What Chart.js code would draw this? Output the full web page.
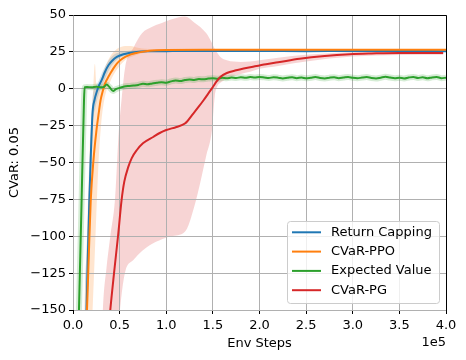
<!DOCTYPE html>
<html><head><meta charset="utf-8">
<script src="https://cdn.jsdelivr.net/npm/chart.js@4/dist/chart.umd.min.js"></script>
<style>html,body{margin:0;padding:0;background:#fff}#wrap{width:466px;height:360px}</style>
</head><body><div id="wrap"><canvas id="c" width="466" height="360"></canvas></div>
<script>
// x values are env steps in units of 1e5
const seriesNames = ['Return Capping', 'CVaR-PPO', 'Expected Value', 'CVaR-PG'];
const xTicks = [0, 0.5, 1, 1.5, 2, 2.5, 3, 3.5, 4];
const yTicks = [50, 25, 0, -25, -50, -75, -100, -125, -150];

// Return Capping
const rcX = [0.13, 0.145, 0.16, 0.175, 0.19, 0.21, 0.23, 0.26, 0.28, 0.307, 0.34, 0.38, 0.42, 0.47, 0.54, 0.60, 0.68, 0.80, 1.0, 1.5, 2.0, 2.5, 3.0, 3.5, 4.0];
const rcY = [-170, -150, -112, -76, -47, -16, -7.8, -1, 2.5, 5.8, 11, 15.9, 19, 21.6, 23.4, 24.3, 25, 25.4, 25.5, 25.6, 25.6, 25.5, 25.6, 25.6, 25.5];
const rcBandX = [0.13, 0.16, 0.19, 0.21, 0.24, 0.28, 0.32, 0.38, 0.45, 0.52, 0.6, 0.7, 0.85, 1.0, 4.0];
const rcBandHi = [-130, -90, -30, -6, 1, 6, 12, 19, 23.5, 25, 25.8, 26, 26, 26, 25.9];
const rcBandLo = [-190, -150, -75, -28, -13, -3, 3, 12, 18.5, 21.5, 23, 24.3, 25, 25.1, 25.1];

// CVaR-PPO
const ppoX = [0.13, 0.15, 0.17, 0.19, 0.22, 0.25, 0.28, 0.295, 0.315, 0.343, 0.37, 0.40, 0.43, 0.47, 0.51, 0.56, 0.62, 0.68, 0.74, 0.82, 0.9, 1.0, 1.5, 2.0, 2.5, 3.0, 3.5, 4.0];
const ppoY = [-180, -150, -112, -76, -48, -29, -14.6, -8, -2.5, 3.5, 7, 10.3, 13.5, 17.1, 19.5, 21.6, 23.3, 24.3, 25, 25.7, 26.1, 26.3, 26.4, 26.4, 26.4, 26.5, 26.5, 26.5];
const ppoBandX = [0.12, 0.15, 0.18, 0.21, 0.235, 0.25, 0.27, 0.30, 0.34, 0.40, 0.47, 0.52, 0.56, 0.62, 0.68, 0.74, 0.82, 1.0, 4.0];
const ppoBandHi = [-150, -100, -40, -10, 17, 4, 1, 6, 14, 22, 27, 28.5, 29, 29, 28, 27.3, 27, 26.8, 26.8];
const ppoBandLo = [-300, -250, -190, -150, -110, -85, -55, -25, -6, 5, 13, 17, 19.5, 21.5, 22.8, 24, 25, 25.8, 26.1];

// Expected Value
const evX = [0.055, 0.064, 0.09, 0.118, 0.125, 0.15, 0.2, 0.25, 0.3, 0.33, 0.36, 0.39, 0.43, 0.46, 0.50,
  0.55, 0.60, 0.65, 0.70, 0.75, 0.80, 0.85, 0.90, 0.95, 1.00,
  1.05, 1.10, 1.15, 1.20, 1.25, 1.30, 1.35, 1.40, 1.45, 1.50,
  1.55, 1.60, 1.65, 1.70, 1.75, 1.80, 1.85, 1.90, 1.95, 2.00,
  2.05, 2.10, 2.15, 2.20, 2.25, 2.30, 2.35, 2.40, 2.45, 2.50,
  2.55, 2.60, 2.65, 2.70, 2.75, 2.80, 2.85, 2.90, 2.95, 3.00,
  3.05, 3.10, 3.15, 3.20, 3.25, 3.30, 3.35, 3.40, 3.45, 3.50,
  3.55, 3.60, 3.65, 3.70, 3.75, 3.80, 3.85, 3.90, 3.95, 4.00];
const evY = [-175, -150, -82, -7.8, 1.0, 1.2, 1.0, 1.3, 1.0, 1.2, 2.8, 1.2, -1.5, -0.3, 0.6,
  1.5, 1.9, 2.2, 2.6, 3.4, 3.0, 3.6, 4.0, 4.4, 4.1,
  5.0, 5.6, 5.2, 5.9, 6.3, 6.0, 6.6, 6.4, 6.9, 7.2,
  6.8, 7.4, 7.1, 7.6, 7.3, 7.8, 7.4, 7.9, 7.6, 8.0,
  7.7, 7.3, 7.8, 7.5, 7.0, 7.4, 7.8, 7.2, 7.6, 7.1,
  7.5, 7.9, 7.3, 7.0, 7.5, 7.8, 7.2, 7.6, 8.0, 7.4,
  7.1, 7.6, 7.9, 7.3, 7.0, 7.5, 8.1, 7.6, 7.2, 7.5,
  7.0, 7.6, 8.0, 7.3, 7.8, 7.1, 7.7, 8.0, 7.2, 7.5];

// CVaR-PG
const pgX = [0.38, 0.40, 0.44, 0.486, 0.52, 0.55, 0.593, 0.63, 0.683, 0.75, 0.86, 0.93, 1.0, 1.11, 1.2, 1.29, 1.35, 1.40, 1.45, 1.50, 1.54, 1.58, 1.65, 1.75, 1.83, 1.95, 2.07, 2.2, 2.43, 2.7, 2.97, 3.2, 3.5, 3.75, 3.97];
const pgY = [-165, -150, -125, -98, -76, -63, -53, -47, -41.7, -37, -32.7, -30, -28, -25.9, -23.6, -16.8, -12, -7.8, -3.3, 1.2, 5, 8, 10.7, 12.5, 13.7, 15.2, 16.6, 17.9, 20.3, 22.2, 23.4, 23.9, 24.3, 24.3, 24.3];
const pgBandX = [0.30, 0.32, 0.36, 0.40, 0.45, 0.49, 0.52, 0.56, 0.65, 0.74, 0.85, 0.93, 1.05, 1.2, 1.3, 1.43, 1.49, 1.52, 1.55, 1.58, 1.65, 1.8, 1.9, 2.0, 2.2, 2.5, 3.0, 3.5, 3.97];
const pgBandHi = [-190, -150, -121, -100, -75, -30, -7.8, 14.8, 28, 37.6, 42, 44, 47, 49, 45, 37.6, 31, 27, 24, 21.6, 19.3, 18.2, 18.5, 19.3, 21, 23, 25, 25.7, 25.6];
const pgBandLo = [-400, -350, -300, -250, -200, -160, -140, -124, -116, -110, -105, -102.7, -100, -97, -80, -45, -28, -5, 2, 4, 7, 10, 11.5, 13.5, 15.5, 18.5, 21.8, 22.9, 23];

const colors = ['#1f77b4', '#ff7f0e', '#2ca02c', '#d62728'];
const bandColors = ['rgba(31,119,180,0.2)', 'rgba(255,127,14,0.2)', 'rgba(44,160,44,0.2)', 'rgba(214,39,40,0.2)'];

const pts = (xs, ys) => xs.map((x, i) => ({x: x, y: ys[i]}));
const FONT = 'DejaVu Sans';
Chart.defaults.font.family = FONT;
Chart.defaults.font.size = 13;
Chart.defaults.color = '#000';

const common = {pointRadius: 0, clip: 0, cubicInterpolationMode: 'monotone'};
const bandHi = (xs, ys) => Object.assign({data: pts(xs, ys), borderWidth: 0, borderColor: 'rgba(0,0,0,0)', fill: false, order: 20}, common);
const bandLo = (xs, ys, c) => Object.assign({data: pts(xs, ys), borderWidth: 0, borderColor: 'rgba(0,0,0,0)', backgroundColor: c, fill: '-1', order: 20}, common);
const line = (xs, ys, c, o, label) => Object.assign({label: label, data: pts(xs, ys), borderColor: c, borderWidth: 2, fill: false, order: o}, common);

const datasets = [
  bandHi(rcBandX, rcBandHi), bandLo(rcBandX, rcBandLo, bandColors[0]),
  bandHi(ppoBandX, ppoBandHi), bandLo(ppoBandX, ppoBandLo, bandColors[1]),
  Object.assign({data: pts(evX, evY), borderColor: bandColors[2], borderWidth: 6, fill: false, order: 15}, common),
  bandHi(pgBandX, pgBandHi), bandLo(pgBandX, pgBandLo, bandColors[3]),
  line(rcX, rcY, colors[0], 4, seriesNames[0]),
  line(ppoX, ppoY, colors[1], 3, seriesNames[1]),
  line(evX, evY, colors[2], 2, seriesNames[2]),
  line(pgX, pgY, colors[3], 1, seriesNames[3])
];

const gridRedraw = {
  id: 'gridRedraw',
  beforeDatasetsDraw(chart) {
    try { chart.scales.x.drawGrid(chart.chartArea); chart.scales.y.drawGrid(chart.chartArea); } catch (e) {}
  }
};
const align = (p) => Math.round(p - 0.5) + 0.5;
const frameAndLegend = {
  id: 'frameAndLegend',
  afterDraw(chart) {
    const ctx = chart.ctx, a = chart.chartArea;
    ctx.save();
    ctx.strokeStyle = '#000'; ctx.lineWidth = 1;
    ctx.beginPath();
    ctx.moveTo(align(a.left), align(a.top)); ctx.lineTo(align(a.right), align(a.top));
    ctx.lineTo(align(a.right), align(a.bottom));
    ctx.stroke();
    // offset text
    ctx.fillStyle = '#000';
    ctx.font = '13px "' + FONT + '"';
    ctx.textAlign = 'right'; ctx.textBaseline = 'middle';
    ctx.fillText('1e5', a.right, 343);
    // legend
    const bx = 287.5, by = 221.5, bw = 152, bh = 82, r = 3;
    ctx.beginPath();
    ctx.moveTo(bx + r, by); ctx.lineTo(bx + bw - r, by); ctx.arcTo(bx + bw, by, bx + bw, by + r, r);
    ctx.lineTo(bx + bw, by + bh - r); ctx.arcTo(bx + bw, by + bh, bx + bw - r, by + bh, r);
    ctx.lineTo(bx + r, by + bh); ctx.arcTo(bx, by + bh, bx, by + bh - r, r);
    ctx.lineTo(bx, by + r); ctx.arcTo(bx, by, bx + r, by, r);
    ctx.closePath();
    ctx.fillStyle = 'rgba(255,255,255,0.8)'; ctx.fill();
    ctx.strokeStyle = '#cccccc'; ctx.stroke();
    const ys = [232.3, 251.6, 270.9, 290.2];
    ctx.textAlign = 'left';
    seriesNames.forEach((n, i) => {
      ctx.strokeStyle = colors[i]; ctx.lineWidth = 2;
      ctx.beginPath(); ctx.moveTo(292, ys[i]); ctx.lineTo(321, ys[i]); ctx.stroke();
      ctx.fillStyle = '#000';
      ctx.fillText(n, 331, ys[i]);
    });
    ctx.restore();
  }
};

const minus = (v) => String(v).replace('-', '\u2212');

new Chart(document.getElementById('c'), {
  type: 'line',
  data: {datasets: datasets},
  options: {
    responsive: false, animation: false, devicePixelRatio: 1,
    layout: {padding: {top: 15, right: 20, left: 0, bottom: 0}},
    plugins: {legend: {display: false}, tooltip: {enabled: false}, filler: {drawTime: 'beforeDatasetsDraw'}},
    scales: {
      x: {
        type: 'linear', min: 0, max: 4,
        afterBuildTicks: (s) => { s.ticks = xTicks.map(v => ({value: v})); },
        afterFit: (s) => { s.height = 50; },
        ticks: {callback: (v) => Number(v).toFixed(1), padding: 4, maxRotation: 0, autoSkip: false, color: '#000', font: {size: 13}},
        grid: {color: '#b0b0b0', lineWidth: 1, tickColor: '#000', tickLength: 4, tickWidth: 1},
        border: {display: true, color: '#000', width: 1},
        title: {display: true, text: 'Env Steps', color: '#000', font: {size: 13}, padding: {top: 0, bottom: 9}}
      },
      y: {
        type: 'linear', min: -150, max: 50,
        afterBuildTicks: (s) => { s.ticks = yTicks.map(v => ({value: v})); },
        afterFit: (s) => { s.width = 73; },
        ticks: {callback: (v) => minus(v), padding: 3, color: '#000', font: {size: 13}, autoSkip: false},
        grid: {color: '#b0b0b0', lineWidth: 1, tickColor: '#000', tickLength: 4, tickWidth: 1},
        border: {display: true, color: '#000', width: 1},
        title: {display: true, text: 'CVaR: 0.05', color: '#000', font: {size: 13}, padding: {top: 7, bottom: 0}}
      }
    }
  },
  plugins: [gridRedraw, frameAndLegend]
});
</script>
</body></html>
